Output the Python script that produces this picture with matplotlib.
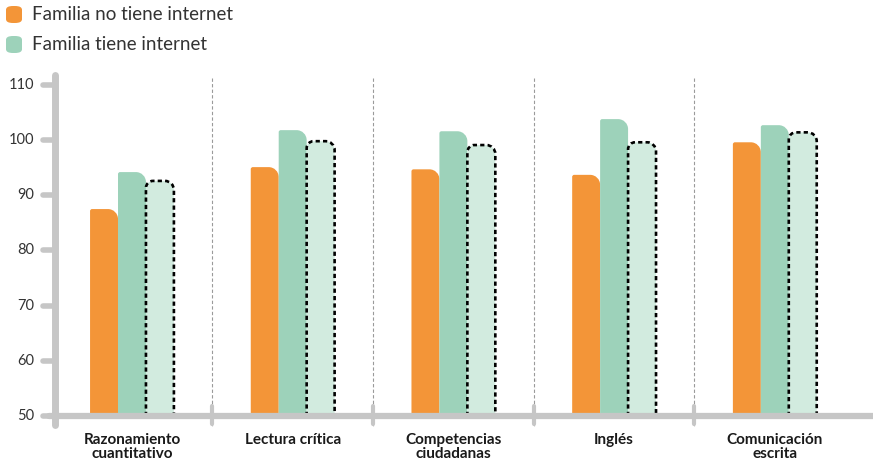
import matplotlib.pyplot as plt
from matplotlib.path import Path
from matplotlib.patches import PathPatch, FancyBboxPatch

plt.rcParams['font.family'] = ['Lato', 'DejaVu Sans']

categories = ['Razonamiento\ncuantitativo', 'Lectura crítica', 'Competencias\nciudadanas',
              'Inglés', 'Comunicación\nescrita']
sin_internet = [87.5, 95.1, 94.7, 93.7, 99.6]
con_internet = [94.2, 101.8, 101.6, 103.8, 102.7]
referencia = [92.6, 99.8, 99.1, 99.6, 101.4]
yticks = [50, 60, 70, 80, 90, 100, 110]
legend_labels = ['Familia no tiene internet', 'Familia tiene internet']

ORANGE = '#F39538'
GREEN = '#9DD2BA'
LIGHT = '#D2EBDF'
GRAY = '#C6C6C6'

W, H = 873, 470
fig = plt.figure(figsize=(W / 100, H / 100), dpi=100)
ax = fig.add_axes([55 / W, (H - 416) / H, 818 / W, 346 / H])
x_lo, x_hi = -0.479, 4.611
ax.set_xlim(x_lo, x_hi)
ax.set_ylim(50, 112.7)
ax.axis('off')

# pixels per data unit
ppx = 818 / (x_hi - x_lo)
ppy = 346 / (112.7 - 50)
K = 0.5523


def rounded_bar(x0, x1, top, rl, rr, **kw):
    rxl, ryl = rl / ppx, rl / ppy
    rxr, ryr = rr / ppx, rr / ppy
    verts = [(x0, 50), (x0, top - ryl),
             (x0, top - ryl + K * ryl), (x0 + rxl - K * rxl, top), (x0 + rxl, top),
             (x1 - rxr, top),
             (x1 - rxr + K * rxr, top), (x1, top - ryr + K * ryr), (x1, top - ryr),
             (x1, 50), (x0, 50)]
    codes = [Path.MOVETO, Path.LINETO,
             Path.CURVE4, Path.CURVE4, Path.CURVE4,
             Path.LINETO,
             Path.CURVE4, Path.CURVE4, Path.CURVE4,
             Path.LINETO, Path.CLOSEPOLY]
    ax.add_patch(PathPatch(Path(verts, codes), **kw))


bw = 28 / 161
for i in range(len(categories)):
    rounded_bar(i - 1.5 * bw, i - 0.5 * bw, sin_internet[i], 2, 10,
                facecolor=ORANGE, edgecolor='none', zorder=2)
    rounded_bar(i - 0.5 * bw, i + 0.5 * bw, con_internet[i], 2, 10,
                facecolor=GREEN, edgecolor='none', zorder=2)
    rounded_bar(i + 0.5 * bw, i + 1.5 * bw, referencia[i], 7, 9,
                facecolor=LIGHT, edgecolor='black', linewidth=1.9,
                linestyle=(0, (1.6, 1.2)), zorder=3)
    ax.text(i, 46.9, categories[i], ha='center', va='top', fontsize=11,
            fontweight='bold', color='#1a1a1a', linespacing=1.0)

# separators between groups
for i in range(len(categories) - 1):
    xs = i + 0.5
    ax.plot([xs, xs], [111.2, 47.8], color='#9a9a9a', lw=0.8, ls=(0, (3, 2)),
            clip_on=False, zorder=1)
    ax.plot([xs, xs], [51.8, 48.6], color=GRAY, lw=3, solid_capstyle='round',
            clip_on=False, zorder=4)

# axes drawn by hand
ax.plot([x_lo, x_lo], [111.8, 48.4], color=GRAY, lw=5, solid_capstyle='round',
        clip_on=False, zorder=5)
ax.plot([x_lo - 0.037, x_hi + 0.02], [50, 50], color=GRAY, lw=4.5,
        solid_capstyle='round', clip_on=False, zorder=5)
for t in yticks:
    ax.plot([x_lo - 0.074, x_lo], [t, t], color=GRAY, lw=4, solid_capstyle='round',
            clip_on=False, zorder=5)
    ax.text(x_lo - 0.132, t, str(t), ha='right', va='center', fontsize=10.5,
            color='#333333')

# legend
for k, (col, lab) in enumerate(zip([ORANGE, GREEN], legend_labels)):
    y0 = H - 23 - 30 * k
    fig.patches.append(FancyBboxPatch((6 / W, y0 / H), 16 / W, 17 / H,
                                      boxstyle='round,pad=0,rounding_size=0.008',
                                      transform=fig.transFigure, facecolor=col,
                                      edgecolor='none'))
    fig.text(32 / W, (y0 + 8.5) / H, lab, ha='left', va='center', fontsize=13.5,
             color='#333333')

fig.savefig('out.png', dpi=100)
